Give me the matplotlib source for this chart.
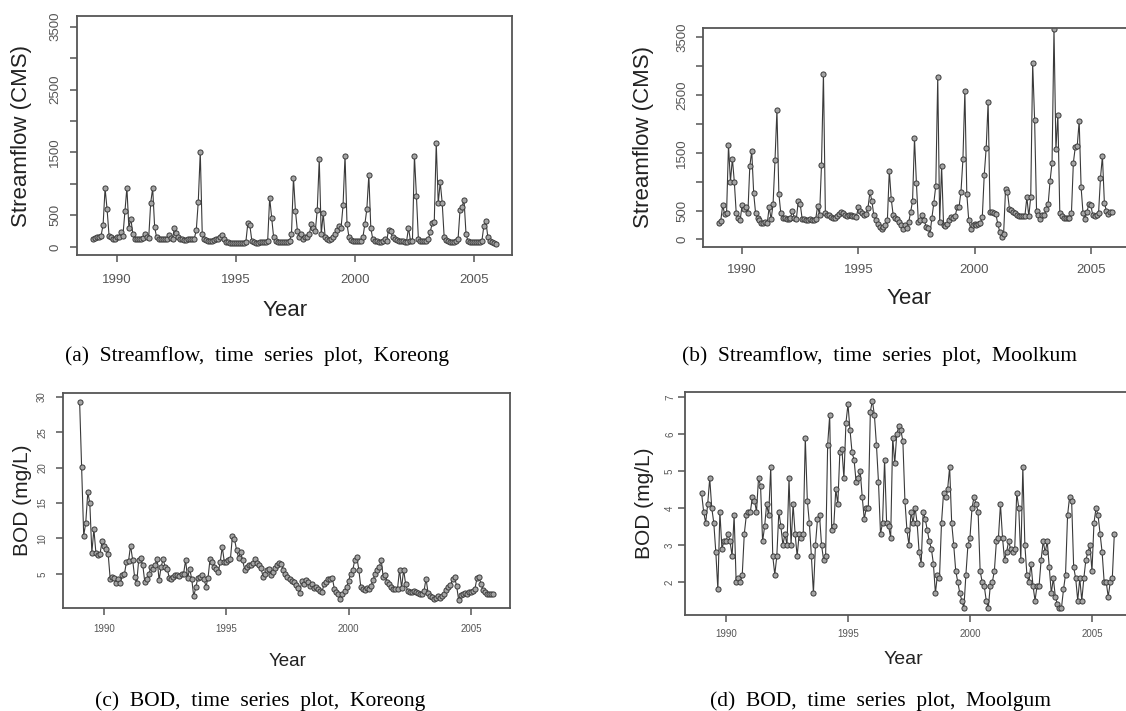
import numpy as np
import matplotlib
matplotlib.use("Agg")
import matplotlib.pyplot as plt

plt.rcParams['font.family'] = ['Liberation Sans', 'DejaVu Sans']

W, H = 1126, 711
start_year = 1989

# monthly values Jan 1989 .. Dec 2005, one row per year
koreong_flow = [
    130, 140, 150, 160, 180, 350, 930, 600, 180, 150, 130, 120,
    150, 160, 230, 180, 570, 940, 300, 450, 200, 130, 120, 120,
    130, 140, 210, 150, 140, 700, 930, 310, 150, 130, 120, 120,
    120, 120, 190, 140, 130, 300, 220, 150, 130, 120, 110, 110,
    120, 120, 130, 130, 270, 720, 1510, 200, 130, 110, 90, 100,
    100, 110, 120, 130, 150, 190, 120, 80, 70, 60, 60, 60,
    60, 60, 60, 60, 60, 80, 380, 340, 100, 70, 60, 60,
    70, 70, 70, 80, 100, 780, 460, 150, 100, 80, 70, 70,
    70, 70, 80, 90, 200, 1100, 570, 250, 150, 200, 120, 150,
    150, 200, 370, 300, 250, 590, 1390, 200, 530, 150, 130, 110,
    120, 150, 200, 270, 330, 300, 660, 1450, 360, 150, 110, 100,
    100, 90, 90, 100, 150, 360, 600, 1140, 300, 120, 100, 90,
    80, 80, 90, 120, 100, 270, 250, 150, 120, 110, 100, 100,
    90, 80, 80, 300, 100, 100, 1450, 810, 120, 100, 90, 100,
    100, 120, 240, 380, 400, 1650, 690, 1030, 700, 150, 110, 90,
    80, 70, 70, 90, 120, 590, 630, 750, 210, 90, 80, 80,
    80, 70, 70, 80, 90, 330, 410, 160, 90, 70, 60, 50,
]

moolkum_flow = [
    280, 320, 590, 440, 450, 1630, 1000, 1400, 1000, 450, 380, 330,
    590, 520, 560, 450, 1270, 1530, 800, 450, 380, 330, 290, 280,
    300, 280, 560, 350, 610, 1370, 2240, 790, 450, 380, 370, 360,
    360, 380, 500, 370, 350, 660, 620, 360, 350, 340, 340, 350,
    340, 330, 350, 580, 420, 1290, 2870, 450, 420, 430, 390, 380,
    380, 400, 440, 470, 460, 430, 410, 420, 430, 410, 400, 390,
    560, 500, 450, 430, 440, 550, 820, 670, 420, 330, 260, 210,
    190, 220, 250, 330, 1190, 700, 420, 380, 350, 300, 250, 190,
    250, 200, 300, 470, 670, 1750, 970, 300, 330, 420, 330, 220,
    200, 100, 380, 640, 930, 2810, 300, 1270, 250, 240, 270, 330,
    390, 380, 400, 560, 560, 830, 1390, 2570, 790, 330, 190, 250,
    270, 250, 260, 280, 390, 1120, 1580, 2380, 470, 480, 460, 440,
    270, 130, 40, 100, 870, 820, 530, 510, 480, 450, 420, 410,
    400, 400, 410, 730, 400, 740, 3050, 2070, 490, 420, 360, 420,
    420, 530, 620, 1020, 1330, 3650, 1560, 2160, 450, 400, 380, 370,
    370, 380, 450, 1330, 1600, 1620, 2050, 900, 450, 360, 480, 610,
    600, 420, 400, 430, 450, 1070, 1440, 640, 500, 440, 470, 480,
]

koreong_bod = [
    29.3, 20.1, 10.4, 12.2, 16.5, 15.0, 8.0, 11.3, 7.9, 7.6, 7.8, 9.6,
    9.0, 8.5, 7.8, 4.3, 4.6, 4.4, 3.7, 4.3, 3.7, 4.8, 5.0, 6.7,
    6.8, 9.0, 7.0, 4.5, 3.7, 7.0, 7.3, 6.2, 3.8, 4.2, 5.0, 6.0,
    5.7, 6.2, 7.1, 4.1, 6.0, 7.1, 5.9, 5.7, 4.4, 4.2, 4.6, 4.8,
    4.8, 4.7, 5.0, 5.0, 6.9, 4.4, 5.7, 4.3, 1.8, 3.1, 4.4, 4.5,
    4.9, 4.3, 3.2, 4.4, 7.1, 6.7, 6.0, 5.7, 5.2, 6.7, 8.8, 6.7,
    6.7, 6.9, 7.1, 10.4, 9.9, 8.4, 7.3, 8.1, 6.9, 5.6, 6.0, 6.2,
    6.3, 6.5, 7.1, 6.5, 6.3, 5.8, 4.6, 5.0, 5.5, 5.7, 4.8, 5.3,
    5.8, 6.3, 6.5, 6.4, 5.6, 5.0, 4.5, 4.3, 4.0, 3.8, 3.4, 3.0,
    2.3, 4.0, 3.6, 4.1, 3.8, 3.3, 3.6, 3.0, 3.2, 2.9, 2.6, 2.5,
    3.6, 3.8, 4.2, 4.2, 4.4, 2.9, 2.5, 2.1, 1.5, 2.2, 2.6, 3.1,
    4.0, 5.0, 5.5, 6.9, 7.4, 5.6, 3.1, 2.9, 2.7, 3.0, 2.9, 3.3,
    4.1, 5.0, 5.5, 5.9, 7.0, 4.5, 4.8, 3.9, 3.5, 3.2, 2.8, 2.9,
    2.9, 5.6, 3.0, 5.6, 3.5, 2.6, 2.5, 2.4, 2.6, 2.4, 2.3, 2.2,
    2.1, 2.6, 4.3, 2.3, 1.9, 1.7, 1.5, 1.6, 1.8, 1.6, 1.9, 2.2,
    2.7, 3.1, 3.4, 4.2, 4.5, 3.3, 1.3, 2.0, 2.2, 2.3, 2.2, 2.4,
    2.5, 2.6, 2.9, 4.4, 4.5, 3.6, 2.7, 2.4, 2.2, 2.2, 2.1, 2.1,
]

moolgum_bod = [
    4.4, 3.9, 3.6, 4.1, 4.8, 4.0, 3.6, 2.8, 1.8, 3.9, 2.9, 3.1,
    3.1, 3.3, 3.1, 2.7, 3.8, 2.0, 2.1, 2.0, 2.2, 3.3, 3.8, 3.9,
    3.9, 4.3, 4.2, 3.9, 4.8, 4.6, 3.1, 3.5, 4.1, 3.8, 5.1, 2.7,
    2.2, 2.7, 3.9, 3.5, 3.0, 3.3, 3.0, 4.8, 3.0, 4.1, 3.3, 2.7,
    3.3, 3.2, 3.3, 5.9, 4.2, 3.6, 2.7, 1.7, 3.0, 3.7, 3.8, 3.0,
    2.6, 2.7, 5.7, 6.5, 3.4, 3.5, 4.5, 4.1, 5.5, 5.6, 4.8, 6.3,
    6.8, 6.1, 5.5, 5.3, 4.7, 4.8, 5.0, 4.3, 3.7, 4.0, 4.0, 6.6,
    6.9, 6.5, 5.7, 4.7, 3.3, 3.6, 5.3, 3.6, 3.5, 3.2, 5.9, 5.2,
    6.0, 6.2, 6.1, 5.8, 4.2, 3.4, 3.0, 3.9, 3.6, 4.0, 3.6, 2.8,
    2.5, 3.9, 3.7, 3.4, 3.1, 2.9, 2.5, 1.7, 2.2, 2.1, 3.6, 4.4,
    4.3, 4.5, 5.1, 3.6, 3.0, 2.3, 2.0, 1.7, 1.5, 1.3, 2.2, 3.0,
    3.2, 4.0, 4.3, 4.1, 3.9, 2.3, 2.0, 1.9, 1.5, 1.3, 1.9, 2.0,
    2.3, 3.1, 3.2, 4.1, 3.2, 2.6, 2.8, 3.1, 2.9, 2.8, 2.9, 4.4,
    4.0, 2.6, 5.1, 3.0, 2.2, 2.0, 2.5, 1.9, 1.5, 1.9, 1.9, 2.6,
    3.1, 2.8, 3.1, 2.4, 1.7, 2.1, 1.6, 1.4, 1.3, 1.3, 1.8, 2.2,
    3.8, 4.3, 4.2, 2.4, 2.1, 1.5, 2.1, 1.5, 2.1, 2.6, 2.8, 3.0,
    2.3, 3.6, 4.0, 3.8, 3.3, 2.8, 2.0, 2.0, 1.6, 2.0, 2.1, 3.3,
]

year_ticks = [1990, 1995, 2000, 2005]
flow_ticks = [0, 500, 1000, 1500, 2000, 2500, 3000, 3500]
flow_labels = ['0', '500', '', '1500', '', '2500', '', '3500']
kbod_ticks = [5, 10, 15, 20, 25, 30]
mbod_ticks = [2, 3, 4, 5, 6, 7]

fig = plt.figure(figsize=(W / 100, H / 100), dpi=100)
fig.patch.set_facecolor('white')


def px_rect(l, t, r, b):
    return [l / W, 1 - b / H, (r - l) / W, (b - t) / H]


def put(x, y, s, **kw):
    fig.text(x / W, 1 - y / H, s, ha='center', va='center', **kw)


def panel(box, vals, ylim, yticks, ylabels, fs, xpad, ypad):
    ax = fig.add_axes(px_rect(*box))
    t = start_year + np.arange(len(vals)) / 12
    ax.plot(t, vals, color='#3a3a3a', lw=0.8, marker='o', ms=3.7,
            mfc='#a4a4a4', mec='#3a3a3a', mew=0.7)
    ax.set_xlim(1988.32, 2006.6)
    ax.set_ylim(*ylim)
    ax.set_xticks(year_ticks)
    ax.set_yticks(yticks)
    ax.set_yticklabels(ylabels)
    for s in ax.spines.values():
        s.set_color('#555555')
        s.set_linewidth(1.3)
    ax.tick_params(direction='out', length=5, width=1.1, color='#555555',
                   labelcolor='#555555', labelsize=fs)
    ax.tick_params(axis='x', pad=xpad)
    ax.tick_params(axis='y', pad=ypad)
    for lbl in ax.get_xticklabels():
        lbl.set_va('center')
    for lbl in ax.get_yticklabels():
        lbl.set_rotation(90)
        lbl.set_ha('center')
        lbl.set_va('center')
    return ax


# (a) Koreong streamflow
panel((77, 16, 512, 255), koreong_flow, (-130, 3670), flow_ticks, flow_labels,
      9.5, 13, 10.8)
put(22, 136, 'Streamflow (CMS)', rotation=90, fontsize=16, color='#222222')
put(285, 311, 'Year', fontsize=16, color='#222222')

# (b) Moolkum streamflow
panel((703, 28, 1128, 247), moolkum_flow, (-130, 3660), flow_ticks, flow_labels,
      9.5, 11.5, 10)
put(643, 137, 'Streamflow (CMS)', rotation=90, fontsize=16, color='#222222')
put(909, 299, 'Year', fontsize=16, color='#222222')

# (c) Koreong BOD
panel((63, 393, 510, 608), koreong_bod, (0.17, 30.55), kbod_ticks,
      [str(v) for v in kbod_ticks], 7, 10, 10)
put(22, 500, 'BOD (mg/L)', rotation=90, fontsize=15, color='#222222')
put(288, 662, 'Year', fontsize=13.5, color='#222222')

# (d) Moolgum BOD
panel((685, 392, 1131, 615), moolgum_bod, (1.11, 7.13), mbod_ticks,
      [str(v) for v in mbod_ticks], 7, 8.6, 5.8)
put(645, 503, 'BOD (mg/L)', rotation=90, fontsize=15, color='#222222')
put(903, 660, 'Year', fontsize=14, color='#222222')

cap = dict(fontsize=15.5, family=['Liberation Serif', 'DejaVu Serif'], color='black')
put(257, 356, '(a)  Streamflow,  time  series  plot,  Koreong', **cap)
put(879, 356, '(b)  Streamflow,  time  series  plot,  Moolkum', **cap)
put(260, 701, '(c)  BOD,  time  series  plot,  Koreong', **cap)
put(880, 701, '(d)  BOD,  time  series  plot,  Moolgum', **cap)

fig.savefig('out.png', dpi=100)
